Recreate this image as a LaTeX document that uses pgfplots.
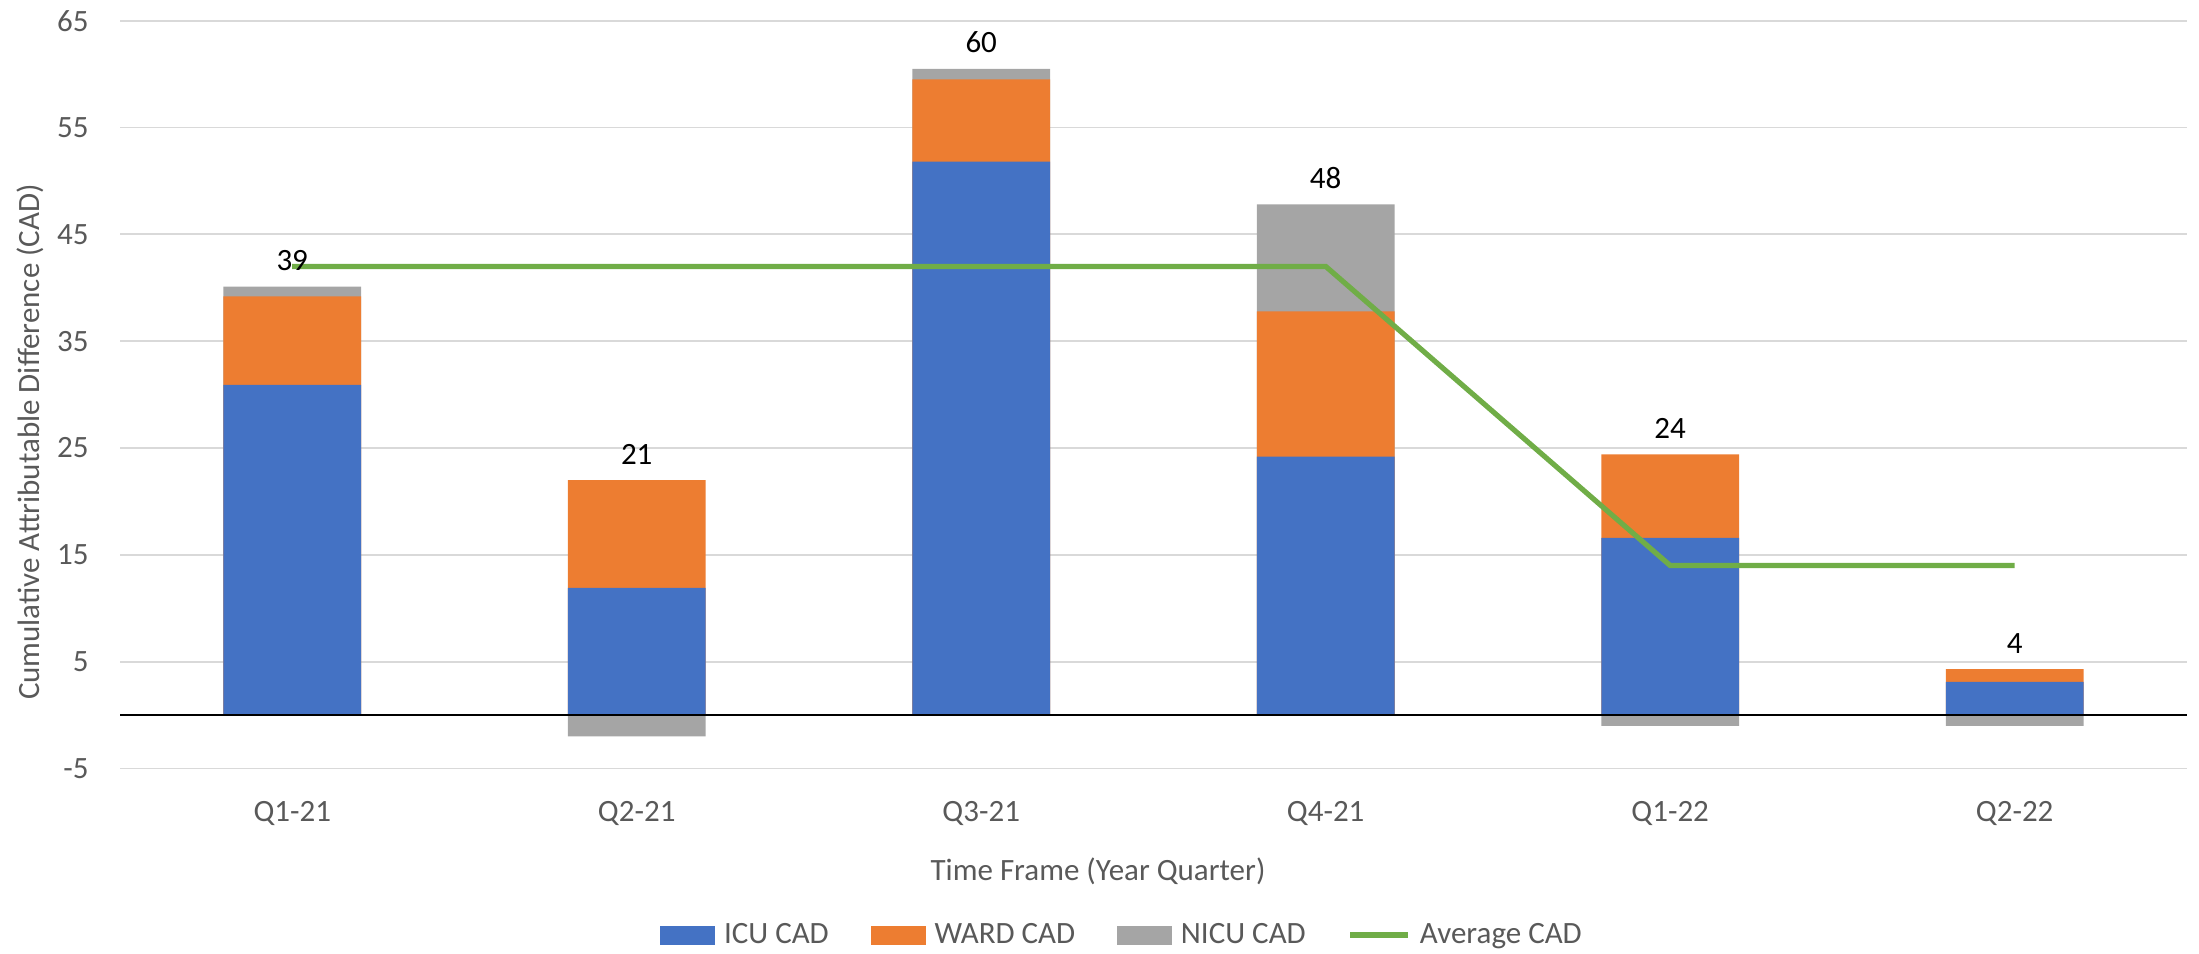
\documentclass[border=0pt]{standalone}
\usepackage{fontspec}
\setmainfont{Carlito}
\usepackage{pgfplots}
\pgfplotsset{compat=1.18}
\definecolor{icu}{HTML}{4472C4}
\definecolor{ward}{HTML}{ED7D31}
\definecolor{nicu}{HTML}{A5A5A5}
\definecolor{avgc}{HTML}{70AD47}
\definecolor{gridc}{HTML}{D9D9D9}
\definecolor{tickc}{HTML}{595959}
\newcommand{\cf}{\fontsize{15.5}{18}\selectfont}
\begin{document}
\begin{tikzpicture}
\path[use as bounding box] (0,0) rectangle (1099.5pt,476.5pt);
\begin{axis}[
  at={(60pt,92.25pt)}, anchor=south west,
  scale only axis, width=1033.5pt, height=373.9pt,
  xmin=-0.5, xmax=5.5, ymin=-5, ymax=65,
  ytick={-5,5,15,25,35,45,55,65},
  xtick={0,1,2,3,4,5},
  xticklabels={Q1-21,Q2-21,Q3-21,Q4-21,Q1-22,Q2-22},
  axis line style={draw=none},
  major tick length=0pt,
  ymajorgrids, grid style={color=gridc, line width=0.9pt},
  /pgf/number format/assume math mode=true,
  tick label style={font=\cf, text=tickc},
  yticklabel style={anchor=east, inner sep=0pt, xshift=-15.5pt},
  xticklabel style={anchor=north, inner sep=0pt, yshift=-16pt},
  xlabel={Time Frame (Year Quarter)},
  xlabel style={font=\cf, text=tickc, at={(axis description cs:0.5,0)}, anchor=north, inner sep=0pt, yshift=-44.5pt, xshift=-27.75pt},
  ylabel={Cumulative Attributable Difference (CAD)},
  ylabel style={font=\cf, text=tickc, at={(axis description cs:0,0.4366)}, anchor=center, inner sep=0pt, yshift=45pt},
  legend columns=4,
  legend style={at={(axis description cs:0.4843,-0.2227)}, anchor=center, draw=none, fill=none,
    font=\cf, text=tickc, nodes={inner sep=0pt},
    /tikz/every odd column/.append style={column sep=4.5pt},
    /tikz/every even column/.append style={column sep=21pt}},
]
% cumulative stack tops
\addplot[ybar, bar width=0.4, bar shift=0pt, fill=nicu, draw=none, forget plot]
  coordinates {(0,40.1) (1,0) (2,60.5) (3,47.8) (4,0) (5,0)};
\addplot[ybar, bar width=0.4, bar shift=0pt, fill=ward, draw=none, forget plot]
  coordinates {(0,39.2) (1,22.0) (2,59.5) (3,37.8) (4,24.4) (5,4.3)};
\addplot[ybar, bar width=0.4, bar shift=0pt, fill=icu, draw=none, forget plot]
  coordinates {(0,30.9) (1,11.9) (2,51.8) (3,24.2) (4,16.6) (5,3.1)};
% negative NICU values
\addplot[ybar, bar width=0.4, bar shift=0pt, fill=nicu, draw=none, forget plot]
  coordinates {(0,0) (1,-2.0) (2,0) (3,0) (4,-1.0) (5,-1.0)};
% zero line
\addplot[sharp plot, mark=none, black, line width=1pt, forget plot]
  coordinates {(-0.5,0) (5.5,0)};
% average line
\addplot[sharp plot, mark=none, color=avgc, line width=2.6pt, forget plot]
  coordinates {(0,42) (1,42) (2,42) (3,42) (4,14) (5,14)};
% data labels
\addplot[ybar, bar width=0.4, bar shift=0pt, draw=none, fill=none, forget plot,
  nodes near coords, point meta=explicit symbolic,
  every node near coord/.style={anchor=south, inner sep=0pt, yshift=7.6pt, font=\cf, text=black}]
  coordinates {(0,40.1)[39] (1,22.0)[21] (2,60.5)[60] (3,47.8)[48] (4,24.4)[24] (5,4.3)[4]};
\addlegendimage{legend image code/.code={\fill[icu] (0pt,-4.5pt) rectangle (27pt,4.5pt);}}
\addlegendentry{ICU CAD}
\addlegendimage{legend image code/.code={\fill[ward] (0pt,-4.5pt) rectangle (27pt,4.5pt);}}
\addlegendentry{WARD CAD}
\addlegendimage{legend image code/.code={\fill[nicu] (0pt,-4.5pt) rectangle (27pt,4.5pt);}}
\addlegendentry{NICU CAD}
\addlegendimage{legend image code/.code={\draw[avgc, line width=2.6pt] (0pt,0pt) -- (29pt,0pt);}}
\addlegendentry{Average CAD}
\end{axis}
\end{tikzpicture}
\end{document}
